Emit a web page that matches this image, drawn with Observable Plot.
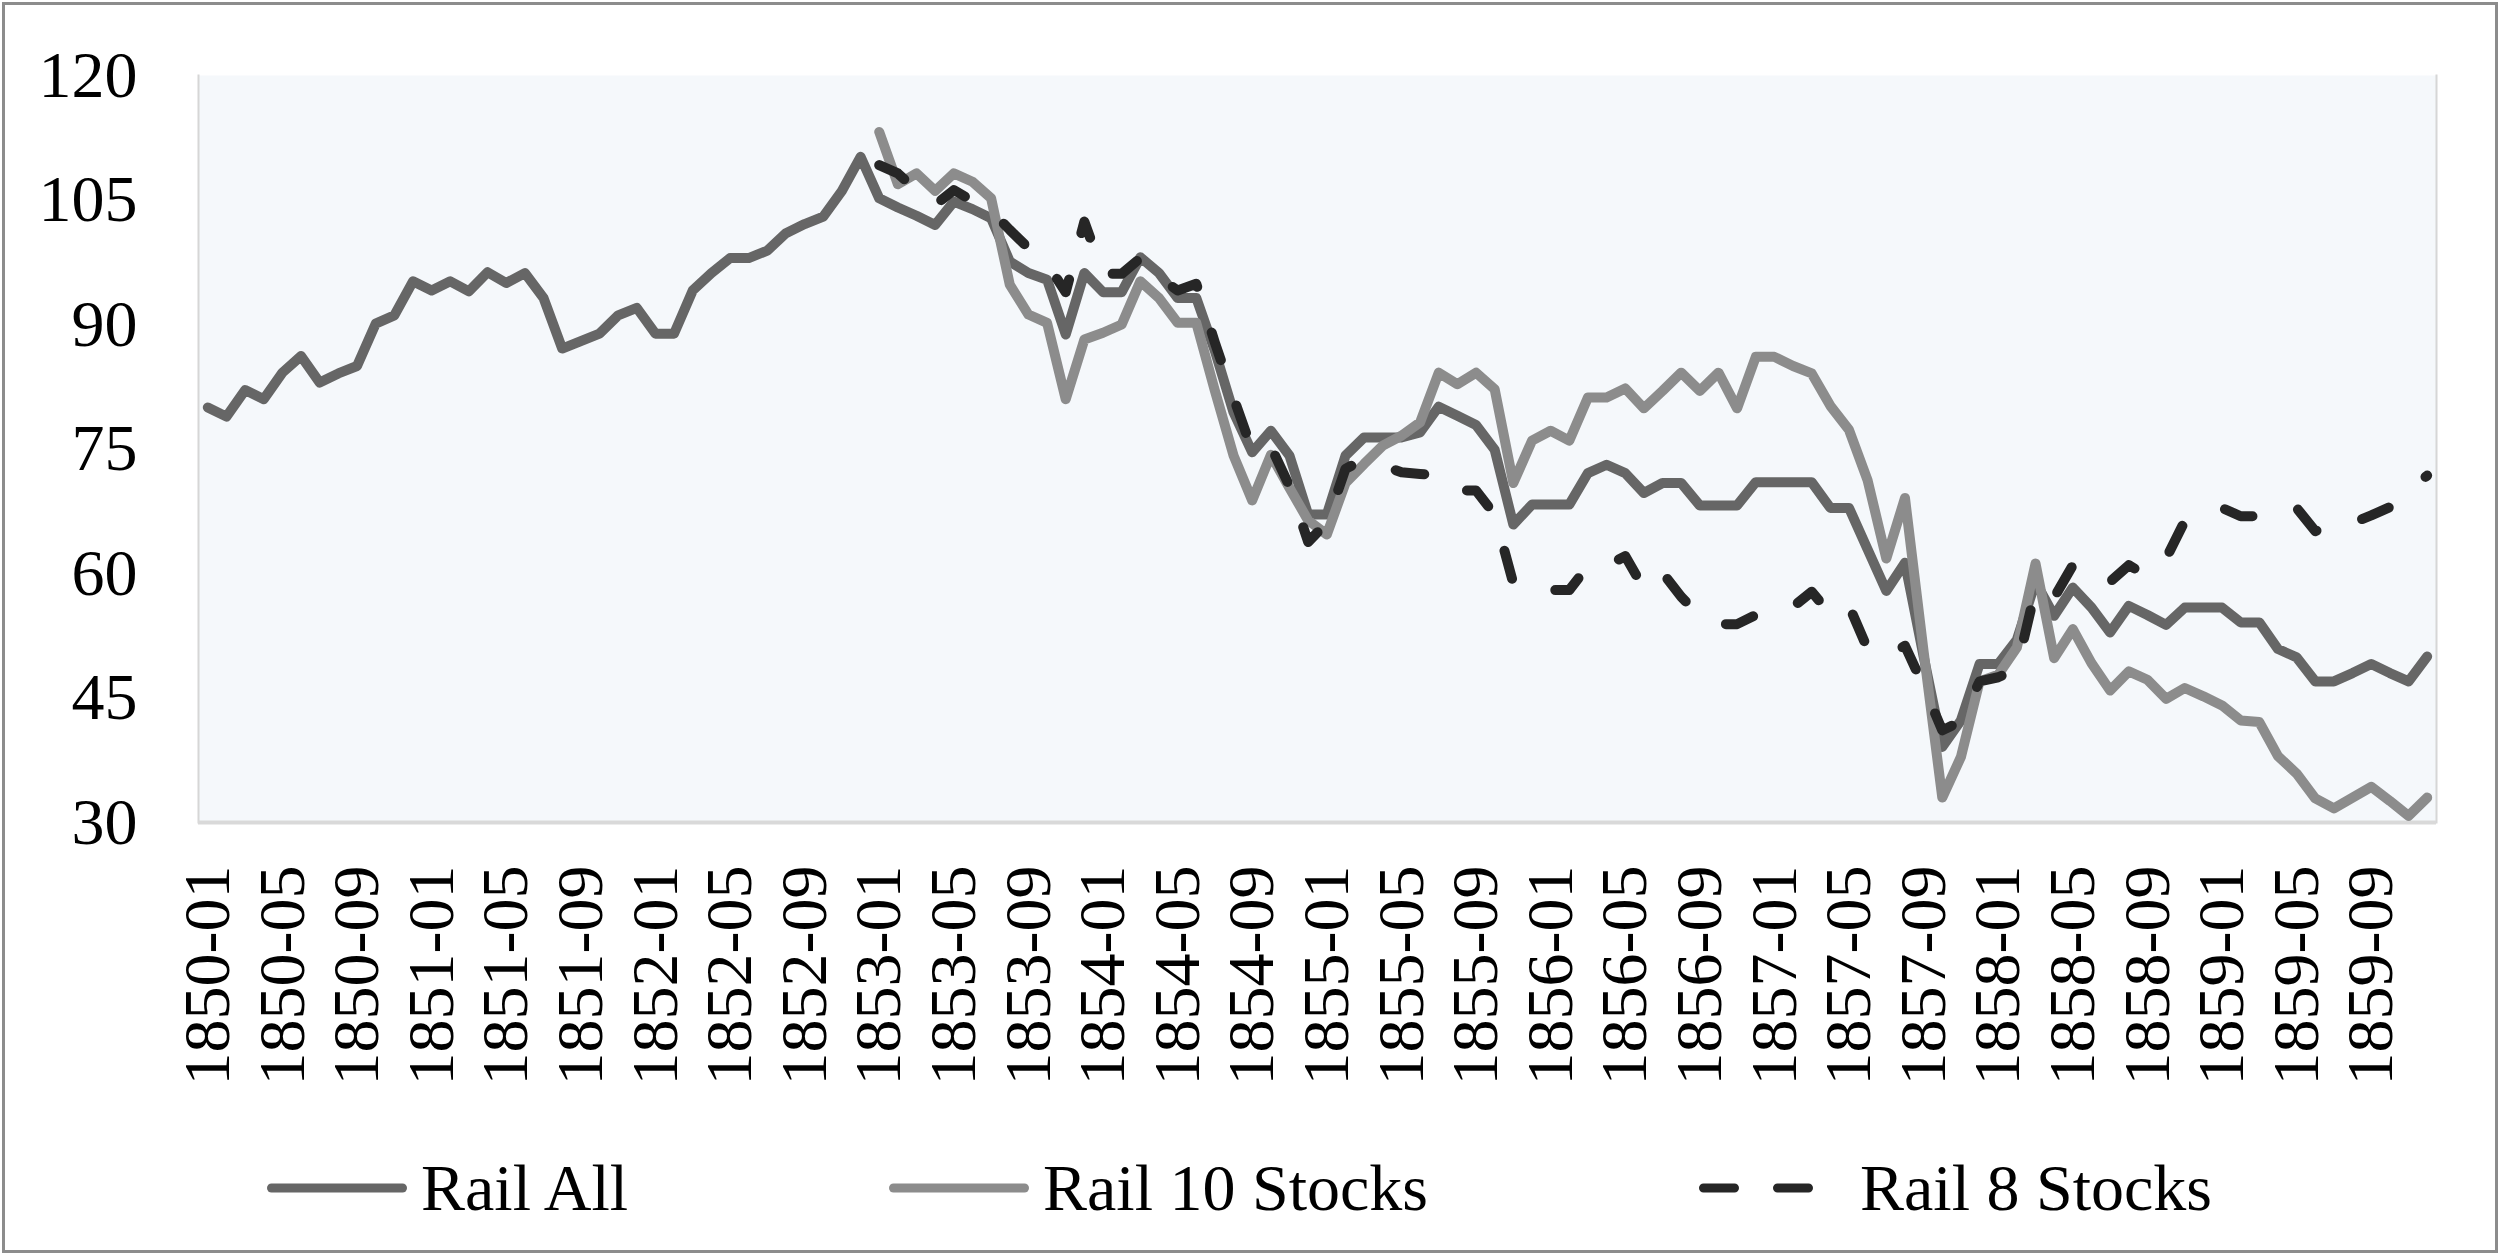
<!DOCTYPE html>
<html><head><meta charset="utf-8">
<script src="https://cdn.jsdelivr.net/npm/d3@7"></script>
<script src="https://cdn.jsdelivr.net/npm/@observablehq/plot@0.6"></script>
<style>
html,body{margin:0;padding:0;background:#fff;}
#wrap{position:relative;width:2500px;height:1255px;overflow:hidden;font-family:"Liberation Serif",serif;background:#fff;}
#frame{position:absolute;left:2px;top:2px;right:2px;bottom:2px;border:3px solid #8c8c8c;pointer-events:none;}
#chart{position:absolute;left:0;top:0;}
.item{position:absolute;top:1140px;height:96px;display:flex;align-items:center;font-size:66px;color:#000;white-space:nowrap;}
.item svg{display:block;}
</style></head>
<body><div id="wrap"><div id="chart"></div><div id="legend"></div><div id="frame"></div></div>
<script>
// Categories: monthly, 1850-01 .. 1859-12
const years = [1850,1851,1852,1853,1854,1855,1856,1857,1858,1859];
const monthNums = ["01","02","03","04","05","06","07","08","09","10","11","12"];
const months = years.flatMap(y => monthNums.map(m => `${y}-${m}`));

// Tick labels shown on the x axis
const xTickLabels = [
  "1850-01","1850-05","1850-09","1851-01","1851-05","1851-09","1852-01","1852-05","1852-09",
  "1853-01","1853-05","1853-09","1854-01","1854-05","1854-09","1855-01","1855-05","1855-09",
  "1856-01","1856-05","1856-09","1857-01","1857-05","1857-09","1858-01","1858-05","1858-09",
  "1859-01","1859-05","1859-09"
];
const yTicks = [30,45,60,75,90,105,120];

// Series (null = no data)
const railAll = [
  80.0,78.9,82.1,81.0,84.2,86.2,83.0,84.1,85.0,90.1,91.1,95.2,
  94.1,95.2,94.0,96.3,95.0,96.2,93.2,87.1,88.0,88.9,91.1,92.0,
  88.9,88.9,94.1,96.2,98.0,98.0,98.9,101.0,102.1,103.0,106.1,110.2,
  105.2,104.1,103.1,102.0,104.8,103.9,102.8,97.6,96.2,95.4,88.8,96.2,
  93.9,93.9,98.1,96.2,93.2,93.2,86.8,79.4,74.6,77.2,74.2,67.1,
  67.1,74.2,76.4,76.4,76.4,77.0,80.1,79.0,77.9,74.9,65.9,68.3,
  68.3,68.3,72.1,73.1,72.1,69.7,70.9,70.9,68.2,68.2,68.2,71.0,
  71.0,71.0,71.0,67.9,67.9,62.9,57.9,61.3,50.0,39.1,42.3,49.1,
  49.1,52.0,59.0,54.9,58.3,55.9,52.9,56.1,55.0,53.8,55.9,55.9,
  55.9,54.1,54.1,50.9,49.9,47.0,47.0,48.0,49.1,48.0,47.0,50.0
];
const rail10 = [
  null,null,null,null,null,null,null,null,null,null,null,null,
  null,null,null,null,null,null,null,null,null,null,null,null,
  null,null,null,null,null,null,null,null,null,null,null,null,
  113.2,106.9,108.2,106.1,108.2,107.2,105.2,94.8,91.2,90.2,81.0,88.2,
  89.0,90.0,95.2,93.2,90.2,90.2,82.0,74.2,68.8,74.3,70.3,66.4,
  64.7,70.9,73.2,75.4,76.6,78.2,84.2,82.8,84.2,82.2,70.9,76.0,
  77.2,76.0,81.2,81.2,82.3,79.9,82.0,84.2,82.0,84.2,79.9,86.1,
  86.1,85.0,84.1,80.2,77.3,71.2,61.8,69.1,50.6,33.0,37.9,47.0,
  47.8,51.1,61.2,49.8,53.3,49.2,45.9,48.2,47.2,44.9,46.2,45.2,
  44.1,42.3,42.1,38.0,35.9,32.9,31.7,33.0,34.3,32.6,30.8,33.0
];
const rail8 = [
  null,null,null,null,null,null,null,null,null,null,null,null,
  null,null,null,null,null,null,null,null,null,null,null,null,
  null,null,null,null,null,null,null,null,null,null,null,null,
  109.2,108.2,106.2,104.4,106.2,104.9,103.7,101.4,99.2,97.3,93.9,102.4,
  96.1,96.1,98.0,95.7,94.1,94.9,87.8,81.2,74.8,75.3,70.5,63.8,
  66.1,72.6,73.8,73.0,72.2,72.0,71.8,70.0,70.0,67.1,58.8,58.0,
  58.0,58.0,60.9,60.9,62.1,58.2,60.1,57.2,54.9,53.9,53.9,55.0,
  56.0,56.0,57.8,55.1,56.1,50.9,49.9,51.3,46.4,41.1,42.2,47.0,
  47.5,48.5,58.1,57.1,61.0,60.9,59.0,61.0,59.7,61.8,66.3,67.1,
  67.9,66.9,66.9,66.9,67.9,65.1,66.1,66.1,67.0,68.0,70.0,71.8
];

const seriesNames = ["Rail All","Rail 10 Stocks","Rail 8 Stocks"];
const seriesColors = ["#666666","#8c8c8c","#262626"];

const toRows = vals => months.map((m,i)=>({month:m, value:vals[i]})).filter(d => d.value != null);
const rowsAll = toRows(railAll), rows10 = toRows(rail10), rows8 = toRows(rail8);

const FONT = '"Liberation Serif", "Times New Roman", serif';
const H = 1120;
const chart = Plot.plot({
  width: 2500, height: H,
  marginLeft: 198, marginRight: 64, marginTop: 75, marginBottom: H - 822,
  style: {fontFamily: FONT, fontSize: "66px", color: "#000", background: "transparent", overflow: "visible"},
  x: {type: "point", domain: months, padding: 0.5, axis: null},
  y: {domain: [30,120], axis: null},
  marks: [
    Plot.frame({fill: "#f5f8fb", stroke: null}),
    Plot.frame({anchor: "left", stroke: "#d6d6d6", strokeWidth: 2}),
    Plot.frame({anchor: "right", stroke: "#d6d6d6", strokeWidth: 2}),
    Plot.ruleY([30], {stroke: "#d9d9d9", strokeWidth: 4}),
    Plot.axisY({ticks: yTicks, tickSize: 0, tickPadding: 61, fontSize: 66, fill: "#000", label: null}),
    Plot.axisX({ticks: xTickLabels, tickSize: 0, tickPadding: 43, tickRotate: -90, fontSize: 66, fill: "#000", label: null}),
    Plot.line(rowsAll, {x: "month", y: "value", stroke: seriesColors[0], strokeWidth: 10, strokeLinejoin: "round", strokeLinecap: "round"}),
    Plot.line(rows10, {x: "month", y: "value", stroke: seriesColors[1], strokeWidth: 10, strokeLinejoin: "round", strokeLinecap: "round"}),
    Plot.line(rows8, {x: "month", y: "value", stroke: seriesColors[2], strokeWidth: 10, strokeLinejoin: "round", strokeLinecap: "round", strokeDasharray: "29,48"})
  ]
});
document.getElementById("chart").appendChild(chart);

// Legend (HTML, below the chart)
const legendPos = [262, 884, 1694];
const legend = document.getElementById("legend");
seriesNames.forEach((name, i) => {
  const div = document.createElement("div");
  div.className = "item";
  div.style.left = legendPos[i] + "px";
  const dashed = i === 2;
  const sw = dashed ? 124 : 150;
  const svg = `<svg width="${sw}" height="20" viewBox="0 0 ${sw} 20"><line x1="9.5" y1="10" x2="${sw-9.5}" y2="10" stroke="${seriesColors[i]}" stroke-width="9" stroke-linecap="round" ${dashed ? 'stroke-dasharray="31,43"' : ''}/></svg>`;
  div.innerHTML = svg + `<span style="margin-left:${dashed ? 42 : 9}px">${name}</span>`;
  legend.appendChild(div);
});
</script>
</body></html>
